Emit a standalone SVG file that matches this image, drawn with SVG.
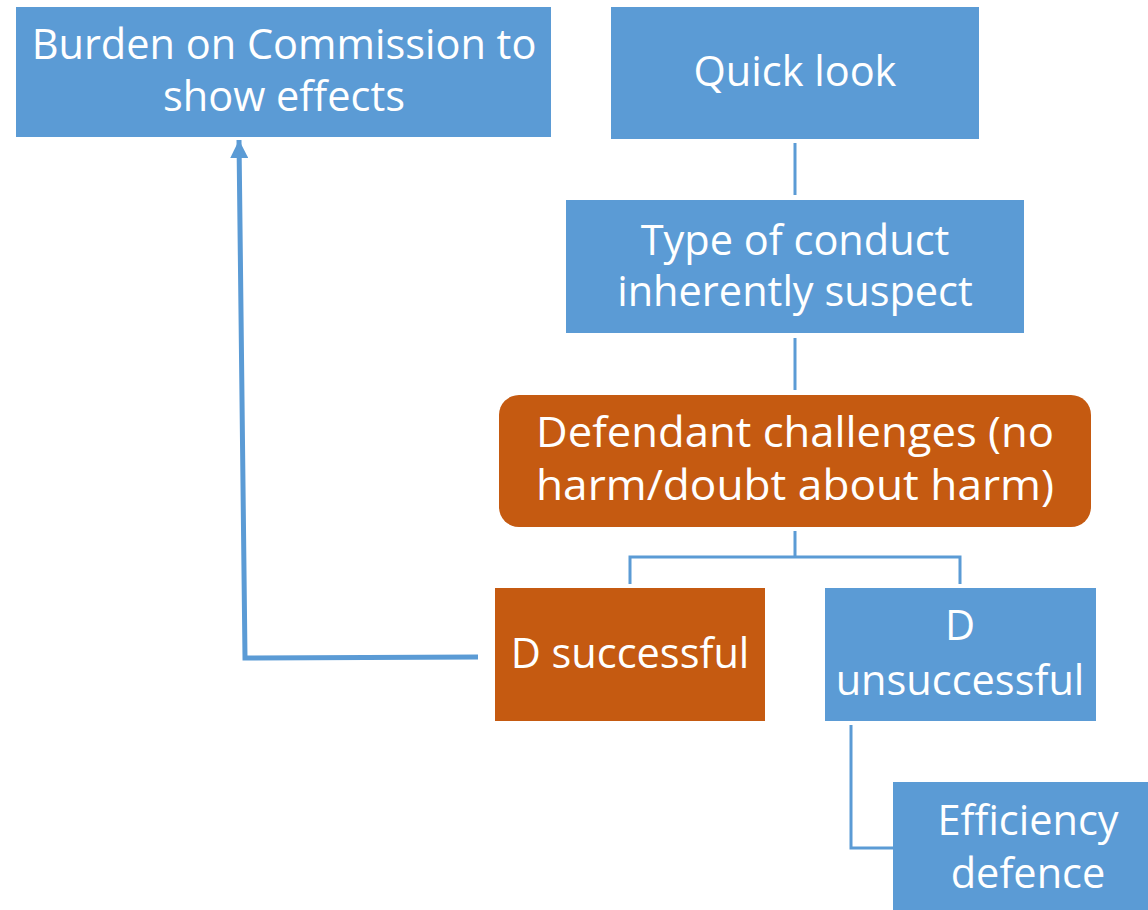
<svg xmlns="http://www.w3.org/2000/svg" width="1148" height="910" viewBox="0 0 1148 910">
  <style>
    .blue { fill: #5B9BD5; }
    .orange { fill: #C55A11; }
    .label { font-family: "Open Sans", Lato, "Liberation Sans", sans-serif; font-size: 41.5px; fill: #FFFFFF; text-anchor: middle; }
    .conn { fill: none; stroke: #5B9BD5; stroke-width: 3; }
    .arrow { fill: none; stroke: #5B9BD5; stroke-width: 5; }
  </style>
  <defs>
    <marker id="head" viewBox="0 0 10 10" refX="10" refY="5" markerWidth="3.6" markerHeight="3.6" orient="auto" markerUnits="strokeWidth">
      <path d="M0,0 L10,5 L0,10 Z" fill="#5B9BD5"/>
    </marker>
  </defs>

  <rect width="1148" height="910" fill="#FFFFFF"/>

  <g id="connectors">
    <path class="conn" d="M795,143 V195"/>
    <path class="conn" d="M795,338 V390"/>
    <path class="conn" d="M795,531 V557 M630,584 V557 H960 V584"/>
    <path class="conn" d="M851,725 V848 H893"/>
    <path class="arrow" d="M478,657 L245,658 L239,140" marker-end="url(#head)"/>
  </g>

  <g id="burden">
    <rect class="blue" x="16" y="7" width="535" height="130"/>
    <text class="label" x="284" y="59">Burden on Commission to</text>
    <text class="label" x="284" y="111">show effects</text>
  </g>

  <g id="quick-look">
    <rect class="blue" x="611" y="7" width="368" height="132"/>
    <text class="label" x="795" y="86">Quick look</text>
  </g>

  <g id="type-of-conduct">
    <rect class="blue" x="566" y="200" width="458" height="133"/>
    <text class="label" x="795" y="255">Type of conduct</text>
    <text class="label" x="795" y="306">inherently suspect</text>
  </g>

  <g id="defendant-challenges">
    <rect class="orange" x="499" y="395" width="592" height="132" rx="20" ry="20"/>
    <text class="label" x="795" y="447" textLength="518" lengthAdjust="spacingAndGlyphs">Defendant challenges (no</text>
    <text class="label" x="795" y="500" textLength="518" lengthAdjust="spacingAndGlyphs">harm/doubt about harm)</text>
  </g>

  <g id="d-successful">
    <rect class="orange" x="495" y="588" width="270" height="133"/>
    <text class="label" x="630" y="668">D successful</text>
  </g>

  <g id="d-unsuccessful">
    <rect class="blue" x="825" y="588" width="271" height="133"/>
    <text class="label" x="960" y="640">D</text>
    <text class="label" x="960" y="695">unsuccessful</text>
  </g>

  <g id="efficiency-defence">
    <rect class="blue" x="893" y="782" width="255" height="128"/>
    <text class="label" x="1028" y="835">Efficiency</text>
    <text class="label" x="1028" y="888">defence</text>
  </g>
</svg>
